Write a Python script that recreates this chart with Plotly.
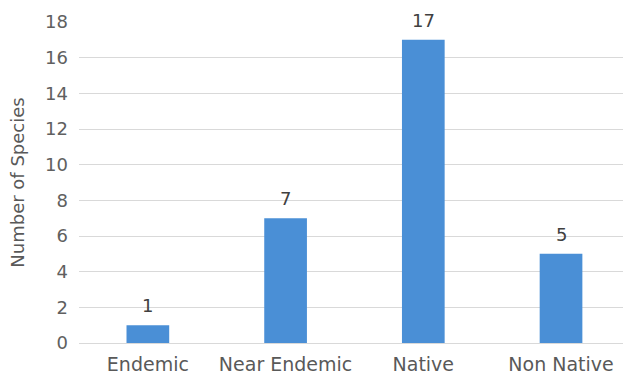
import plotly.graph_objects as go

# Species counts by origin category
categories = ["Endemic", "Near Endemic", "Native", "Non Native"]
species_counts = [1, 7, 17, 5]
y_ticks = [0, 2, 4, 6, 8, 10, 12, 14, 16, 18]

FONT = "DejaVu Sans, Verdana, sans-serif"

fig = go.Figure(
    go.Bar(
        x=categories,
        y=species_counts,
        width=0.31,
        marker=dict(color="#4a8fd6", line=dict(width=0)),
        cliponaxis=False,
    )
)

# Value labels above each bar
for cat, val in zip(categories, species_counts):
    fig.add_annotation(
        x=cat,
        y=val,
        text=str(val),
        showarrow=False,
        yanchor="bottom",
        yshift=7,
        font=dict(family=FONT, size=18, color="#404040"),
    )

fig.update_layout(
    width=623,
    height=376,
    margin=dict(l=79, r=0, t=22, b=33),
    paper_bgcolor="white",
    plot_bgcolor="white",
    showlegend=False,
    font=dict(family=FONT, color="#595959"),
    bargap=0.7,
)

fig.update_xaxes(
    range=[-0.5, 3.45],
    showgrid=False,
    showline=False,
    ticks="",
    tickfont=dict(size=19, color="#595959"),
    ticklabelstandoff=8,
    automargin=False,
)

fig.update_yaxes(
    range=[0, 18],
    tickvals=y_ticks,
    showgrid=True,
    gridcolor="#d9d9d9",
    gridwidth=1,
    zeroline=True,
    zerolinecolor="#d9d9d9",
    zerolinewidth=1,
    showline=False,
    ticks="",
    tickfont=dict(size=18, color="#606060"),
    ticklabelstandoff=10,
    automargin=False,
    title=dict(text="Number of Species", font=dict(size=18, color="#595959"), standoff=15),
)

fig.write_html("out.html")
